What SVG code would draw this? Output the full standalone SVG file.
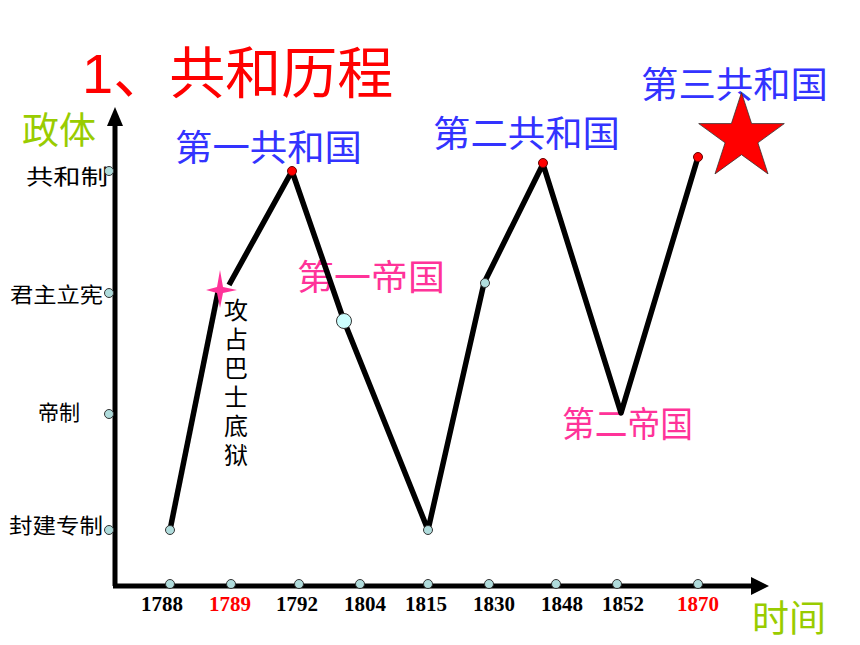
<svg xmlns="http://www.w3.org/2000/svg" width="860" height="645" viewBox="0 0 860 645">
<defs>
<style>
.cjk{font-family:"Noto Sans CJK SC","Liberation Sans",sans-serif;}
.title{font-family:"Liberation Sans","Noto Sans CJK SC",sans-serif;font-size:56px;fill:#ff0000;}
.green{fill:#99cc00;font-size:37px;}
.blue{fill:#3333ff;font-size:36px;}
.pink{fill:#ff3399;font-size:35px;}
.ylab{fill:#000;font-size:21px;}
.year{font-family:"Liberation Serif",serif;font-weight:bold;font-size:21px;text-anchor:middle;fill:#000;}
.red{fill:#ff0000;}
.tick{fill:#b0dcdc;stroke:#333;stroke-width:1;}
.rdot{fill:#ff0000;stroke:#660000;stroke-width:1;}
.axis{stroke:#000;stroke-width:5;fill:none;}
.data{stroke:#000;stroke-width:5.5;fill:none;stroke-linejoin:round;}
</style>
</defs>
<rect width="860" height="645" fill="#ffffff"/>

<g id="title"><text class="title" x="82" y="93">1、共和历程</text></g>

<g id="axes">
<line class="axis" x1="115" y1="586" x2="115" y2="122"/>
<polygon points="115,107 107,126 123,126" fill="#000"/>
<line class="axis" x1="113" y1="586" x2="754" y2="586"/>
<polygon points="769,586 751,577 751,595" fill="#000"/>
<text id="ylabel" class="cjk green" x="22" y="144">政体</text>
<text id="xlabel" class="cjk green" x="752" y="632">时间</text>
</g>

<g id="ylabels">
<text class="cjk ylab" x="26" y="184" font-size="24" textLength="82" lengthAdjust="spacingAndGlyphs">共和制</text>
<text class="cjk ylab" x="10" y="302" textLength="93" lengthAdjust="spacingAndGlyphs">君主立宪</text>
<text class="cjk ylab" x="38" y="420">帝制</text>
<text class="cjk ylab" x="9" y="533" textLength="94" lengthAdjust="spacingAndGlyphs">封建专制</text>
<circle class="tick" cx="109" cy="171" r="4.5"/>
<circle class="tick" cx="109" cy="293" r="4.5"/>
<circle class="tick" cx="109" cy="414" r="4.5"/>
<circle class="tick" cx="109" cy="530" r="4.5"/>
</g>

<g id="xticks">
<circle class="tick" cx="170" cy="584" r="4.5"/>
<circle class="tick" cx="231" cy="584" r="4.5"/>
<circle class="tick" cx="299" cy="584" r="4.5"/>
<circle class="tick" cx="360" cy="584" r="4.5"/>
<circle class="tick" cx="428" cy="584" r="4.5"/>
<circle class="tick" cx="489" cy="584" r="4.5"/>
<circle class="tick" cx="556" cy="584" r="4.5"/>
<circle class="tick" cx="617" cy="584" r="4.5"/>
<circle class="tick" cx="698" cy="584" r="4.5"/>
<text class="year" x="162" y="611">1788</text>
<text class="year red" x="230" y="611">1789</text>
<text class="year" x="297" y="611">1792</text>
<text class="year" x="365" y="611">1804</text>
<text class="year" x="426" y="611">1815</text>
<text class="year" x="494" y="611">1830</text>
<text class="year" x="562" y="611">1848</text>
<text class="year" x="623" y="611">1852</text>
<text class="year red" x="698" y="611">1870</text>
</g>

<g id="labels">
<text class="cjk blue" x="175" y="161" textLength="187" lengthAdjust="spacingAndGlyphs">第一共和国</text>
<text class="cjk blue" x="433" y="147" textLength="187" lengthAdjust="spacingAndGlyphs">第二共和国</text>
<text class="cjk blue" x="641" y="98" textLength="187" lengthAdjust="spacingAndGlyphs">第三共和国</text>
<text class="cjk pink" x="297" y="290" textLength="148" lengthAdjust="spacingAndGlyphs">第一帝国</text>
<text class="cjk pink" x="562" y="437" font-size="33" textLength="131" lengthAdjust="spacingAndGlyphs">第二帝国</text>
<text id="bastille-label" class="cjk" font-size="24" fill="#000" writing-mode="vertical-rl" letter-spacing="5" x="236" y="298">攻占巴士底狱</text>
</g>

<g id="connectors">
<polyline class="data" points="170,530 218,292"/>
<polyline class="data" points="229,285 292,171 344,321 428,530 484,283 543,164 621,413 698,157"/>
</g>

<g id="points">
<circle class="tick" cx="170" cy="530" r="4.5"/>
<circle class="tick" cx="428" cy="530" r="4.5"/>
<circle class="tick" cx="485" cy="283" r="4.5"/>
<circle cx="344" cy="321" r="7.5" fill="#ccffff" stroke="#333" stroke-width="1"/>
<circle class="rdot" cx="292" cy="171" r="4.5"/>
<circle class="rdot" cx="543" cy="163" r="4.5"/>
<circle class="rdot" cx="698" cy="157" r="4.5"/>
</g>

<g id="bastille-star">
<polygon points="220,270 223,287 237,290 223,293 220,308 217,293 206,290 217,287" fill="#ff3399"/>
</g>

<g id="red-star">
<polygon points="741.5,92.5 751.6,123.6 784.3,123.6 757.9,142.8 768,173.9 741.5,154.7 715,173.9 725.1,142.8 698.7,123.6 731.4,123.6" fill="#ff0000" stroke="#333" stroke-width="0.8"/>
</g>
</svg>
